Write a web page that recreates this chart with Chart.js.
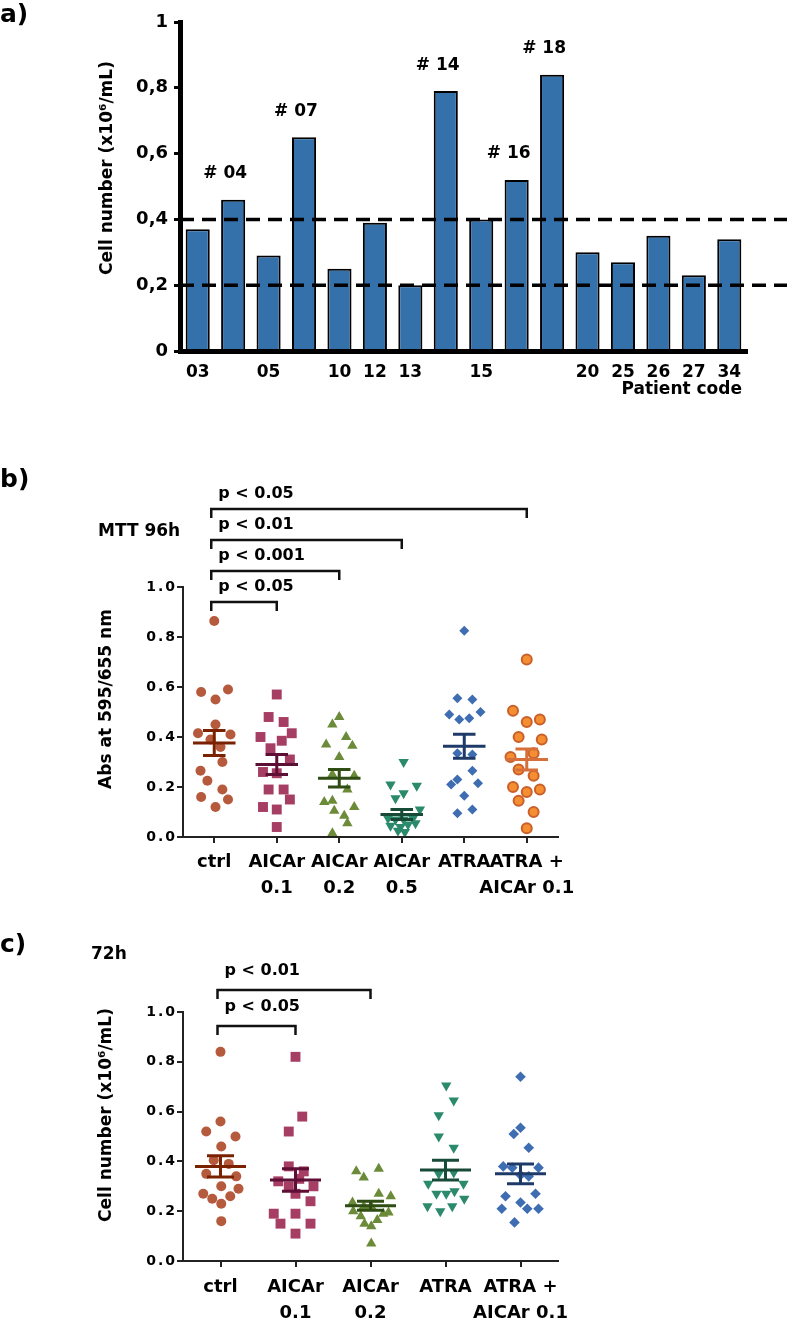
<!DOCTYPE html>
<html><head><meta charset="utf-8">
<script src="https://cdn.jsdelivr.net/npm/chart.js@4/dist/chart.umd.min.js"></script>
<style>
html,body{margin:0;padding:0;background:#fff;}
#wrap{position:relative;width:787px;height:1321px;overflow:hidden;background:#fff;}
canvas{position:absolute;left:0;}
</style></head><body>
<div id="wrap">
<canvas id="ca" width="787" height="405" style="top:0px"></canvas>
<canvas id="cb" width="787" height="440" style="top:460px"></canvas>
<canvas id="cc" width="787" height="396" style="top:925px"></canvas>
</div>
<script>
// ---------- Panel a data ----------
const patientCodes = ['03','04','05','07','10','12','13','14','15','16','18','20','25','26','27','34'];
const patientTickLabels = ['03','','05','','10','12','13','','15','','','20','25','26','27','34'];
const cellNumbers = [0.37,0.46,0.29,0.65,0.25,0.39,0.20,0.79,0.40,0.52,0.84,0.30,0.27,0.35,0.23,0.34];
const highlightedIdx = [1,3,7,9,10];
const highlightedLabels = ['# 04','# 07','# 14','# 16','# 18'];
const thresholds = [0.4, 0.2];
const yTicksA = ['0','0,2','0,4','0,6','0,8','1'];

// ---------- Panel b data (MTT 96h) ----------
const groupsB = ['ctrl','AICAr 0.1','AICAr 0.2','AICAr 0.5','ATRA','ATRA + AICAr 0.1'];
const tickLabelsB = [['ctrl'],['AICAr','0.1'],['AICAr','0.2'],['AICAr','0.5'],['ATRA'],['ATRA +','AICAr 0.1']];
const yTicksB = ['0.0','0.2','0.4','0.6','0.8','1.0'];
const b_ctrl      = [0.864,0.58,0.55,0.59,0.45,0.415,0.41,0.39,0.36,0.30,0.265,0.225,0.19,0.16,0.15,0.12];
const b_ctrl_jit  = [0,-0.21,0.02,0.22,0.02,-0.26,0.26,-0.06,0.10,0.13,-0.22,-0.11,0.13,-0.21,0.22,0.02];
const b_aic01     = [0.57,0.48,0.46,0.40,0.385,0.415,0.355,0.31,0.26,0.255,0.19,0.19,0.15,0.12,0.11,0.04];
const b_aic01_jit = [0,-0.13,0.11,-0.26,0.08,0.24,-0.10,0.21,-0.22,0,-0.13,0.11,0.21,-0.22,0,0];
const b_aic02     = [0.48,0.45,0.40,0.37,0.365,0.32,0.25,0.245,0.19,0.14,0.145,0.12,0.105,0.085,0.055,0.015];
const b_aic02_jit = [0,-0.11,0.11,-0.21,0.21,0,-0.11,0.24,0.13,-0.24,-0.11,0.24,-0.08,0.08,0.13,-0.11];
const b_aic05     = [0.30,0.21,0.205,0.175,0.155,0.11,0.075,0.07,0.07,0.075,0.045,0.04,0.05,0.025,0.02,0.055];
const b_aic05_jit = [0.03,-0.18,0.24,0.03,-0.10,0.29,-0.22,-0.10,0.03,0.18,-0.18,-0.02,0.10,-0.06,0.05,0.22];
const b_atra      = [0.825,0.555,0.55,0.49,0.50,0.47,0.475,0.335,0.33,0.265,0.23,0.215,0.21,0.165,0.095,0.11];
const b_atra_jit  = [0,-0.11,0.13,-0.24,0.26,-0.08,0.08,-0.11,0.13,0.13,-0.11,0.22,-0.21,0,-0.11,0.13];
const b_combo     = [0.71,0.505,0.46,0.47,0.40,0.39,0.32,0.335,0.27,0.245,0.20,0.18,0.19,0.145,0.10,0.035];
const b_combo_jit = [0,-0.22,0,0.21,-0.13,0.24,-0.26,0.11,-0.13,0.11,-0.22,0,0.21,-0.13,0.11,0];
const meansB = [0.376,0.29,0.235,0.09,0.363,0.31];
const semB   = [0.05,0.04,0.035,0.02,0.048,0.042];
const bracketsB = [{to:1,label:'p < 0.05'},{to:2,label:'p < 0.001'},{to:3,label:'p < 0.01'},{to:5,label:'p < 0.05'}];

// ---------- Panel c data (72h) ----------
const groupsC = ['ctrl','AICAr 0.1','AICAr 0.2','ATRA','ATRA + AICAr 0.1'];
const tickLabelsC = [['ctrl'],['AICAr','0.1'],['AICAr','0.2'],['ATRA'],['ATRA +','AICAr 0.1']];
const yTicksC = ['0.0','0.2','0.4','0.6','0.8','1.0'];
const c_ctrl      = [0.84,0.56,0.52,0.50,0.46,0.405,0.39,0.35,0.34,0.30,0.29,0.27,0.25,0.26,0.23,0.16];
const c_ctrl_jit  = [0,0,-0.19,0.20,0.01,-0.09,0.11,-0.19,0.21,0.01,0.24,-0.23,-0.11,0.13,0.01,0.01];
const c_aic01     = [0.82,0.58,0.52,0.38,0.36,0.32,0.30,0.30,0.27,0.24,0.19,0.19,0.15,0.15,0.11,0.33];
const c_aic01_jit = [0,0.09,-0.09,-0.09,0.11,-0.23,0.24,-0.09,0,0.20,-0.29,0,-0.20,0.20,0,0.05];
const c_aic02     = [0.36,0.37,0.335,0.27,0.26,0.235,0.22,0.20,0.195,0.18,0.19,0.15,0.14,0.165,0.07,0.22];
const c_aic02_jit = [-0.19,0.11,-0.09,0.11,0.27,-0.24,0.01,-0.23,0.24,-0.13,0.17,-0.08,0.01,0.09,0.01,-0.09];
const c_atra      = [0.705,0.645,0.585,0.50,0.455,0.35,0.355,0.31,0.31,0.27,0.27,0.28,0.25,0.22,0.22,0.20];
const c_atra_jit  = [0.01,0.11,-0.09,-0.09,0.11,-0.09,0.11,-0.23,0.24,-0.12,0.01,0.12,0.25,-0.24,0.09,-0.07];
const c_combo     = [0.74,0.51,0.535,0.455,0.38,0.375,0.375,0.345,0.34,0.27,0.26,0.235,0.21,0.21,0.21,0.155];
const c_combo_jit = [0,-0.09,0,0.11,-0.23,-0.11,0.24,0,0.11,0.20,-0.20,0,-0.25,0.09,0.24,-0.08];
const meansC = [0.38,0.325,0.222,0.365,0.35];
const semC   = [0.043,0.045,0.018,0.04,0.04];
const bracketsC = [{to:1,label:'p < 0.05'},{to:2,label:'p < 0.01'}];

// ---------- helpers ----------
const FAM = '"DejaVu Sans", "Liberation Sans", Arial, sans-serif';
function txt(ctx, s, x, y, size, align, rot){
  ctx.save();
  ctx.font = 'bold ' + size + 'px ' + FAM;
  ctx.fillStyle = '#000';
  ctx.textAlign = align || 'left';
  ctx.textBaseline = 'middle';
  ctx.translate(x, y);
  if (rot) ctx.rotate(rot);
  ctx.fillText(s, 0, 0);
  ctx.restore();
}
const spacedY = { id:'spacedY', beforeDraw(chart){
  const s = chart.scales.y;
  if (!s.__sp){
    const o = s.drawLabels;
    s.drawLabels = function(a){ const c = this.ctx; c.save(); c.letterSpacing = '2px'; o.call(this, a); c.restore(); };
    s.__sp = true;
  }
}};
function meanPlugin(means, sems, colors){
  return { id:'means', afterDatasetsDraw(chart){
    const {ctx, scales:{x, y}} = chart;
    const cw = x.getPixelForValue(1) - x.getPixelForValue(0);
    const hw = cw * 0.34, cap = cw * 0.18;
    ctx.save(); ctx.lineWidth = 3;
    means.forEach((m, i) => {
      const cx = x.getPixelForValue(i);
      const ym = y.getPixelForValue(m), yh = y.getPixelForValue(m + sems[i]), yl = y.getPixelForValue(m - sems[i]);
      ctx.strokeStyle = colors[i];
      ctx.beginPath();
      ctx.moveTo(cx - hw, ym); ctx.lineTo(cx + hw, ym);
      ctx.moveTo(cx - cap, yh); ctx.lineTo(cx + cap, yh);
      ctx.moveTo(cx - cap, yl); ctx.lineTo(cx + cap, yl);
      ctx.moveTo(cx, yh); ctx.lineTo(cx, yl);
      ctx.stroke();
    });
    ctx.restore();
  }};
}
function bracketPlugin(list, base, step, textOff){
  return { id:'brackets', afterDraw(chart){
    const {ctx, chartArea, scales:{x}} = chart;
    const x0 = x.getPixelForValue(0);
    ctx.save();
    ctx.strokeStyle = '#111'; ctx.lineWidth = 2.5;
    list.forEach((b, k) => {
      const yb = chartArea.top + base - k * step;
      const x1 = x.getPixelForValue(b.to);
      ctx.beginPath();
      ctx.moveTo(x0 - 3, yb + 9); ctx.lineTo(x0 - 3, yb); ctx.lineTo(x1, yb); ctx.lineTo(x1, yb + 9);
      ctx.stroke();
      txt(ctx, b.label, x0 + 4, yb - textOff, 16, 'left');
    });
    ctx.restore();
  }};
}
function scatterSets(vals, jits, colors, shapes, rots, radii, borders, borderW){
  return vals.map((arr, g) => ({
    type:'scatter',
    data: arr.map((v, k) => ({x: g + jits[g][k], y: v})),
    pointStyle: shapes[g], rotation: rots[g], pointRadius: radii[g],
    backgroundColor: colors[g], borderColor: borders[g], borderWidth: borderW[g],
    pointBackgroundColor: colors[g], pointBorderColor: borders[g], pointBorderWidth: borderW[g],
    clip: false, showLine: false
  }));
}
function dotScales(groups, tickLabels, yTicks, xHeight, xPad){
  return {
    x:{ type:'linear', min:-0.5, max:groups.length - 0.5,
        afterBuildTicks: s => { s.ticks = groups.map((_, i) => ({value:i})); },
        grid:{drawOnChartArea:false, drawTicks:true, tickLength:6, color:'#222', lineWidth:2},
        border:{display:true, color:'#222', width:2, z:1},
        ticks:{autoSkip:false, maxRotation:0, minRotation:0, padding:xPad, color:'#000',
               font:{family:FAM, weight:'bold', size:18, lineHeight:1.45},
               callback:(v, i) => tickLabels[i]},
        afterFit: s => { s.height = xHeight; } },
    y:{ min:0, max:1,
        grid:{drawOnChartArea:false, drawTicks:true, tickLength:6, color:'#222', lineWidth:2},
        border:{display:true, color:'#222', width:2, z:1},
        ticks:{stepSize:0.2, padding:0, color:'#000', font:{family:FAM, weight:'bold', size:14},
               callback:(v, i) => yTicks[i]},
        afterFit: s => { s.width = 183; } }
  };
}

// ---------- Panel a ----------
new Chart(document.getElementById('ca'), {
  type:'bar',
  data:{ labels: patientCodes, datasets:[{ data: cellNumbers, backgroundColor:'#3471AA', borderColor:'#000',
         borderWidth:2, barPercentage:0.68, categoryPercentage:1.0 }]},
  options:{ responsive:false, animation:false, devicePixelRatio:1,
    layout:{padding:{left:0, top:22, right:40, bottom:0}},
    plugins:{legend:{display:false}, tooltip:{enabled:false}},
    scales:{
      x:{ grid:{display:false, drawTicks:false}, border:{display:true, color:'#000', width:5, z:1},
          ticks:{color:'#000', font:{family:FAM, weight:'bold', size:17}, padding:11, autoSkip:false, maxRotation:0,
                 callback:(v, i) => patientTickLabels[i]},
          afterFit: s => { s.height = 54; } },
      y:{ min:0, max:1, grid:{drawOnChartArea:false, drawTicks:true, tickLength:6, color:'#000', lineWidth:3},
          border:{display:true, color:'#000', width:5, z:1},
          ticks:{stepSize:0.2, color:'#000', font:{family:FAM, weight:'bold', size:18}, padding:6,
                 callback:(v, i) => yTicksA[i]},
          afterFit: s => { s.width = 180; } }
    }
  },
  plugins:[{ id:'annA', afterDatasetsDraw(chart){
      const {ctx, chartArea, scales:{y}} = chart;
      ctx.save();
      ctx.strokeStyle = '#000'; ctx.lineWidth = 3.5; ctx.setLineDash([14, 8]);
      thresholds.forEach(t => { const yy = y.getPixelForValue(t); ctx.beginPath(); ctx.moveTo(chartArea.left, yy); ctx.lineTo(chart.width, yy); ctx.stroke(); });
      ctx.restore();
      const meta = chart.getDatasetMeta(0);
      highlightedIdx.forEach((idx, k) => { const el = meta.data[idx]; txt(ctx, highlightedLabels[k], el.x - 8, el.y - 26, 17, 'center'); });
    },
    afterDraw(chart){
      const ctx = chart.ctx;
      txt(ctx, 'a)', 0, 15, 25, 'left');
      txt(ctx, 'Cell number (x10\u2076/mL)', 108, 168, 17, 'center', -Math.PI / 2);
      txt(ctx, 'Patient code', 742, 390, 17, 'right');
    }
  }]
});

// ---------- Panel b ----------
const colorsB = ['#B55A3C','#A63D63','#6B8B38','#2A8A6B','#3E6DB2','#F58E30'];
const bordersB = ['#B55A3C','#A63D63','#6B8B38','#2A8A6B','#3E6DB2','#C9602C'];
const meanColorsB = ['#7A2200','#5E0F36','#2F4D14','#184A38','#1E3A68','#D66F3A'];
new Chart(document.getElementById('cb'), {
  type:'scatter',
  data:{ datasets: scatterSets([b_ctrl,b_aic01,b_aic02,b_aic05,b_atra,b_combo],
        [b_ctrl_jit,b_aic01_jit,b_aic02_jit,b_aic05_jit,b_atra_jit,b_combo_jit],
        colorsB, ['circle','rect','triangle','triangle','rectRot','circle'], [0,0,0,180,0,0],
        [5,7,6,6,5,5], bordersB, [0,0,0,0,0,2]) },
  options:{ responsive:false, animation:false, devicePixelRatio:1,
    layout:{padding:{left:0, top:127, right:229, bottom:0}},
    plugins:{legend:{display:false}, tooltip:{enabled:false}},
    scales: dotScales(groupsB, tickLabelsB, yTicksB, 63, 6)
  },
  plugins:[spacedY, meanPlugin(meansB, semB, meanColorsB), bracketPlugin(bracketsB, 15, 31, 15),
    { id:'txtB', afterDraw(chart){
        const ctx = chart.ctx;
        txt(ctx, 'b)', 0, 20, 25, 'left');
        txt(ctx, 'MTT 96h', 98, 72, 17, 'left');
        txt(ctx, 'Abs at 595/655 nm', 107, 239, 17, 'center', -Math.PI / 2);
    }}]
});

// ---------- Panel c ----------
const colorsC = ['#B55A3C','#A63D63','#6B8B38','#2A8A6B','#3E6DB2'];
const meanColorsC = ['#7A2200','#5E0F36','#2F4D14','#184A38','#1E3A68'];
new Chart(document.getElementById('cc'), {
  type:'scatter',
  data:{ datasets: scatterSets([c_ctrl,c_aic01,c_aic02,c_atra,c_combo],
        [c_ctrl_jit,c_aic01_jit,c_aic02_jit,c_atra_jit,c_combo_jit],
        colorsC, ['circle','rect','triangle','triangle','rectRot'], [0,0,0,180,0],
        [5,7,6,6,5.3], colorsC, [0,0,0,0,0]) },
  options:{ responsive:false, animation:false, devicePixelRatio:1,
    layout:{padding:{left:0, top:87, right:229, bottom:0}},
    plugins:{legend:{display:false}, tooltip:{enabled:false}},
    scales: dotScales(groupsC, tickLabelsC, yTicksC, 60, 7)
  },
  plugins:[spacedY, meanPlugin(meansC, semC, meanColorsC), bracketPlugin(bracketsC, 14, 36, 19),
    { id:'txtC', afterDraw(chart){
        const ctx = chart.ctx;
        txt(ctx, 'c)', 0, 20, 25, 'left');
        txt(ctx, '72h', 91, 30, 17, 'left');
        txt(ctx, 'Cell number (x10\u2076/mL)', 107, 190, 17, 'center', -Math.PI / 2);
    }}]
});
</script>
</body></html>
